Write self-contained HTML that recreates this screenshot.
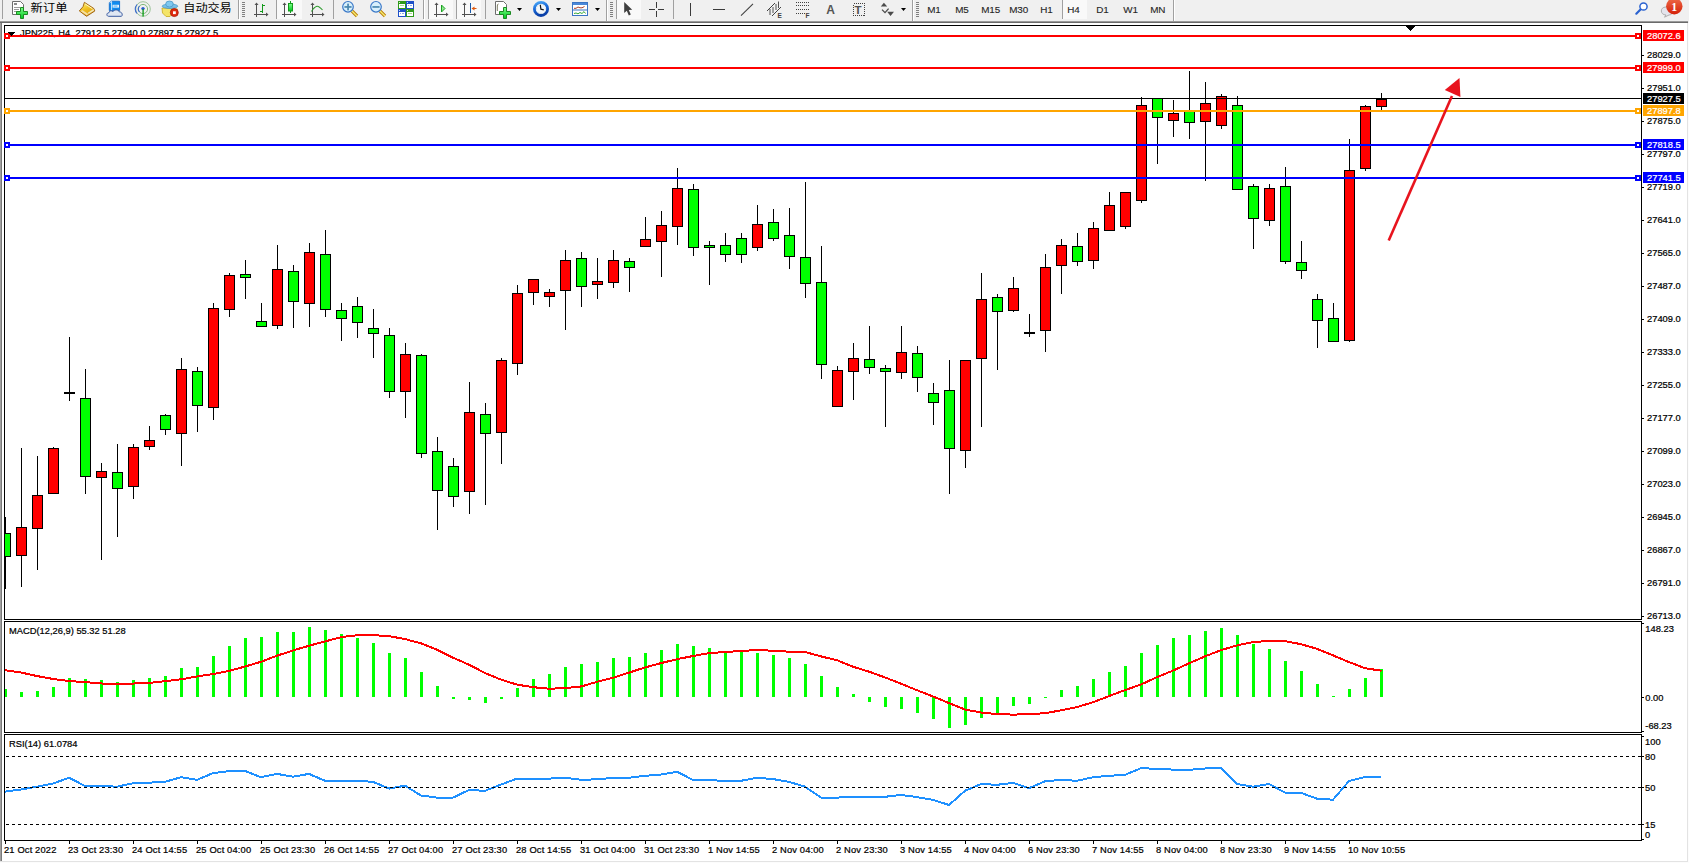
<!DOCTYPE html>
<html><head><meta charset="utf-8"><title>MT4 JPN225 H4</title>
<style>
html,body{margin:0;padding:0;background:#fff;}
body{width:1689px;height:863px;position:relative;overflow:hidden;font-family:"Liberation Sans", Tahoma, sans-serif;}
svg text{white-space:pre;}
</style></head><body>
<div style="position:absolute;left:0;top:0;width:1689px;height:23px;background:#f0f0f0;"></div>
<svg width="1689" height="23" style="position:absolute;left:0;top:0" font-family='"Liberation Sans", Tahoma, sans-serif'>
<defs>
<linearGradient id="gplus" x1="0" y1="0" x2="0" y2="1"><stop offset="0" stop-color="#7dff8a"/><stop offset="1" stop-color="#00c81e"/></linearGradient>
<linearGradient id="ggold" x1="0.2" y1="0" x2="0.6" y2="1"><stop offset="0" stop-color="#fff27a"/><stop offset="0.5" stop-color="#f0c020"/><stop offset="1" stop-color="#d89a10"/></linearGradient>
<linearGradient id="gclock" x1="0" y1="0" x2="0.3" y2="1"><stop offset="0" stop-color="#4aa8f8"/><stop offset="0.5" stop-color="#1a6ad8"/><stop offset="1" stop-color="#0a40a8"/></linearGradient>
<linearGradient id="gbadge" x1="0" y1="0" x2="0" y2="1"><stop offset="0" stop-color="#ee6a48"/><stop offset="1" stop-color="#d42008"/></linearGradient>
<linearGradient id="gbar" x1="0" y1="0" x2="0" y2="1"><stop offset="0" stop-color="#a8a8a8"/><stop offset="1" stop-color="#646464"/></linearGradient>
</defs>
<g shape-rendering="crispEdges">
<rect x="0" y="21" width="1688" height="1" fill="#9a9a9a"/>
<rect x="0" y="22" width="1688" height="1" fill="#6a6a6a"/>
<!-- separators -->
<rect x="2" y="0" width="1" height="19" fill="#a0a0a0"/>
<rect x="238" y="0" width="1" height="19" fill="#a0a0a0"/><rect x="239" y="0" width="1" height="21" fill="#fff"/>
<rect x="276" y="0" width="1" height="19" fill="#a0a0a0"/>
<rect x="333" y="0" width="1" height="19" fill="#a0a0a0"/>
<rect x="423" y="0" width="1" height="19" fill="#a0a0a0"/><rect x="424" y="0" width="1" height="21" fill="#fff"/>
<rect x="428" y="0" width="1" height="19" fill="#a0a0a0"/>
<rect x="456" y="0" width="1" height="19" fill="#a0a0a0"/>
<rect x="485" y="0" width="1" height="19" fill="#a0a0a0"/>
<rect x="606" y="0" width="1" height="21" fill="#a0a0a0"/><rect x="607" y="0" width="1" height="21" fill="#fff"/>
<rect x="616" y="0" width="1" height="19" fill="#a0a0a0"/>
<rect x="673" y="0" width="1" height="19" fill="#a0a0a0"/>
<rect x="912" y="0" width="1" height="21" fill="#a0a0a0"/><rect x="913" y="0" width="1" height="21" fill="#fff"/>
<rect x="1062" y="0" width="1" height="19" fill="#a0a0a0"/>
<rect x="1173" y="0" width="1" height="21" fill="#a0a0a0"/><rect x="1174" y="0" width="1" height="21" fill="#fff"/>
<!-- pressed boxes -->
<rect x="277" y="0" width="25" height="19" fill="#f9f9f9"/>
<rect x="429" y="0" width="24" height="19" fill="#f9f9f9"/>
<rect x="457" y="0" width="24" height="19" fill="#f9f9f9"/>
<rect x="617" y="0" width="24" height="19" fill="#f9f9f9"/>
<rect x="1063" y="0" width="24" height="19" fill="#f9f9f9"/>
<!-- grippers -->
<g fill="#808080">
<rect x="242" y="2" width="3" height="1"/><rect x="242" y="4" width="3" height="1"/><rect x="242" y="6" width="3" height="1"/><rect x="242" y="8" width="3" height="1"/><rect x="242" y="10" width="3" height="1"/><rect x="242" y="12" width="3" height="1"/><rect x="242" y="14" width="3" height="1"/><rect x="242" y="16" width="3" height="1"/>
<rect x="610" y="2" width="3" height="1"/><rect x="610" y="4" width="3" height="1"/><rect x="610" y="6" width="3" height="1"/><rect x="610" y="8" width="3" height="1"/><rect x="610" y="10" width="3" height="1"/><rect x="610" y="12" width="3" height="1"/><rect x="610" y="14" width="3" height="1"/><rect x="610" y="16" width="3" height="1"/>
<rect x="916" y="2" width="3" height="1"/><rect x="916" y="4" width="3" height="1"/><rect x="916" y="6" width="3" height="1"/><rect x="916" y="8" width="3" height="1"/><rect x="916" y="10" width="3" height="1"/><rect x="916" y="12" width="3" height="1"/><rect x="916" y="14" width="3" height="1"/><rect x="916" y="16" width="3" height="1"/>
</g>
</g>
<!-- new order icon -->
<path d="M12.5,1.5 H20.5 L23.5,4.5 V14.5 H12.5 Z" fill="#fff" stroke="#6e6e6e"/>
<rect x="14" y="3" width="3" height="2" fill="#8a8a8a"/>
<rect x="14" y="7" width="6" height="1" fill="#9a9a9a"/><rect x="14" y="9" width="5" height="1" fill="#9a9a9a"/><rect x="14" y="11" width="3" height="1" fill="#9a9a9a"/>
<path d="M20.5,7.5 H23.5 V11.5 H27.5 V14.5 H23.5 V18.5 H20.5 V14.5 H16.5 V11.5 H20.5 Z" fill="url(#gplus)" stroke="#1c8a22"/>
<text transform="translate(30.5,12.4) scale(1.03,0.91)" font-size="12" font-family='"Liberation Sans", "Noto Sans CJK SC", "WenQuanYi Zen Hei", sans-serif' fill="#000">新订单</text>
<!-- gold book -->
<path d="M84.4,2.3 L93.8,8.5 L94.8,11 L86.6,16.3 L79.3,10.9 L83,6.7 Z" fill="url(#ggold)" stroke="#9a5a0c" stroke-width="0.9"/>
<path d="M80.6,11.2 L86.8,15.2 L88.4,14.1 L82.3,10 Z" fill="#f6e0a0"/>
<path d="M88.6,14 L94.2,10.4 L93.6,9.1 L87.8,12.8 Z" fill="#f2e6b8"/>
<path d="M85.2,4 L92.5,8.8" stroke="#fff8c0" stroke-width="1"/>
<!-- blue box + cloud -->
<path d="M109.3,2.6 L111.3,1.2 H119.6 V10.5 H109.3 Z" fill="#0f8cf0" stroke="#0a64c8" stroke-width="0.8"/>
<path d="M109.6,2.8 L111.6,1.5 V10.3" fill="none" stroke="#fff" stroke-width="0.8"/>
<rect x="112.6" y="4.8" width="6.4" height="2.8" fill="#f0f8ff"/><rect x="113.5" y="5.6" width="4" height="0.9" fill="#3a9ae8"/>
<path d="M108.6,16.3 C106.3,16.3 106.3,12.8 108.8,12.8 C109.3,10.6 112,10.2 113,11.6 C113.8,9.4 118.6,9.2 119.4,12 C122.2,11.6 123,15.6 121.4,16.3 Z" fill="#dfe7f3" stroke="#3a5aa0" stroke-width="1"/>
<!-- signal -->
<circle cx="143" cy="9" r="7.3" fill="none" stroke="#9ec49a" stroke-width="1"/>
<path d="M137,4.5 A7.3,7.3 0 0 0 137,13.5" fill="none" stroke="#3a6ad0" stroke-width="1.1"/>
<circle cx="143" cy="9" r="4.6" fill="none" stroke="#7fb87a" stroke-width="1"/>
<path d="M139.5,6 A4.6,4.6 0 0 0 139.5,12" fill="none" stroke="#3a6ad0" stroke-width="1.1"/>
<circle cx="143" cy="8.6" r="1.7" fill="#2a5ad0"/>
<rect x="142.4" y="9" width="1.4" height="7.5" fill="#18a020"/>
<!-- auto trading -->
<path d="M162.5,13 L166,16.5 L170,16.5 L177.5,9 L162,8 Z" fill="#f4e468" stroke="#c8a820" stroke-width="0.8"/>
<ellipse cx="170" cy="6.2" rx="7.8" ry="2.2" fill="#78c0e8" stroke="#4a98c8" stroke-width="0.8"/>
<ellipse cx="169.5" cy="4" rx="3.8" ry="3" fill="#80c8f0" stroke="#4a98c8" stroke-width="0.8"/>
<circle cx="174.3" cy="12.6" r="4" fill="#e02a10" stroke="#a81a08" stroke-width="0.8"/>
<rect x="173" y="11.3" width="2.8" height="2.8" fill="#fff"/>
<text transform="translate(183.3,12.4) scale(1.01,0.91)" font-size="12" font-family='"Liberation Sans", "Noto Sans CJK SC", "WenQuanYi Zen Hei", sans-serif' fill="#000">自动交易</text>
<!-- bar chart icon -->
<g fill="#505050" shape-rendering="crispEdges">
<rect x="256" y="4" width="1" height="13"/><rect x="254" y="14" width="13" height="1"/>
<rect x="284" y="4" width="1" height="13"/><rect x="282" y="14" width="13" height="1"/>
<rect x="312" y="4" width="1" height="13"/><rect x="310" y="14" width="13" height="1"/>
<rect x="436" y="4" width="1" height="13"/><rect x="434" y="14" width="13" height="1"/>
<rect x="464" y="4" width="1" height="13"/><rect x="462" y="14" width="13" height="1"/>
</g>
<g fill="#505050">
<path d="M254.5,5 L256.5,2.5 L258.5,5 Z"/><path d="M266,12.5 L268.5,14.5 L266,16.5 Z"/>
<path d="M282.5,5 L284.5,2.5 L286.5,5 Z"/><path d="M294,12.5 L296.5,14.5 L294,16.5 Z"/>
<path d="M310.5,5 L312.5,2.5 L314.5,5 Z"/><path d="M322,12.5 L324.5,14.5 L322,16.5 Z"/>
<path d="M434.5,5 L436.5,2.5 L438.5,5 Z"/><path d="M446,12.5 L448.5,14.5 L446,16.5 Z"/>
<path d="M462.5,5 L464.5,2.5 L466.5,5 Z"/><path d="M474,12.5 L476.5,14.5 L474,16.5 Z"/>
</g>
<g fill="#139a1c" shape-rendering="crispEdges">
<rect x="262" y="4" width="1" height="9"/><rect x="260" y="11" width="2" height="1"/><rect x="263" y="5" width="2" height="1"/>
<rect x="290" y="1" width="1" height="12"/>
</g>
<rect x="288.5" y="3.5" width="4" height="7.5" fill="url(#gplus)" stroke="#139a1c"/>
<path d="M311.5,11.5 Q314,7 317,6.2 Q319,6 322.5,10" fill="none" stroke="#2a9a2a" stroke-width="1.1"/>
<!-- zoom in/out -->
<line x1="352" y1="11" x2="357" y2="16" stroke="#b87c08" stroke-width="3.2"/>
<line x1="352" y1="11" x2="357" y2="16" stroke="#f8ec70" stroke-width="1.4"/>
<circle cx="348" cy="6.8" r="5.3" fill="#d8f0fc" stroke="#3a78c8" stroke-width="1.2"/>
<rect x="344.4" y="6.1" width="7.2" height="1.7" fill="#4a88b0"/><rect x="347.2" y="3.6" width="1.7" height="6.8" fill="#4a88b0"/>
<line x1="380" y1="11" x2="385" y2="16" stroke="#b87c08" stroke-width="3.2"/>
<line x1="380" y1="11" x2="385" y2="16" stroke="#f8ec70" stroke-width="1.4"/>
<circle cx="376" cy="6.8" r="5.3" fill="#d8f0fc" stroke="#3a78c8" stroke-width="1.2"/>
<rect x="372.4" y="6.1" width="7.2" height="1.7" fill="#4a88b0"/>
<!-- tile -->
<g shape-rendering="crispEdges">
<rect x="398" y="1" width="8" height="8" fill="#2f9a1a"/><rect x="406" y="1" width="8" height="8" fill="#1e50c8"/>
<rect x="398" y="9" width="8" height="8" fill="#1e50c8"/><rect x="406" y="9" width="8" height="8" fill="#2f9a1a"/>
<rect x="399" y="4" width="6" height="4" fill="#fff"/><rect x="407" y="4" width="6" height="4" fill="#fff"/>
<rect x="399" y="12" width="6" height="4" fill="#fff"/><rect x="407" y="12" width="6" height="4" fill="#fff"/>
<rect x="400" y="5" width="4" height="1" fill="#a8d890"/><rect x="408" y="5" width="1" height="1" fill="#8aa8e8"/><rect x="410" y="5" width="2" height="1" fill="#8aa8e8"/>
<rect x="400" y="13" width="1" height="1" fill="#8aa8e8"/><rect x="402" y="13" width="2" height="1" fill="#8aa8e8"/><rect x="408" y="13" width="4" height="1" fill="#a8d890"/>
<rect x="399" y="2" width="1" height="1" fill="#d0f0c0"/><rect x="407" y="2" width="1" height="1" fill="#c0d8ff"/><rect x="399" y="10" width="1" height="1" fill="#c0d8ff"/><rect x="407" y="10" width="1" height="1" fill="#d0f0c0"/>
</g>
<!-- autoscroll triangle -->
<path d="M441.5,5 L445,8.5 L441.5,12 Z" fill="#8ee88e" stroke="#18a020" stroke-width="1"/>
<!-- chart shift -->
<rect x="470" y="3" width="1" height="10" fill="#1a5aa8"/>
<path d="M471.5,8.5 L474.5,6.5 L474.5,8 L476.5,8 L476.5,9 L474.5,9 L474.5,10.5 Z" fill="#e05a10"/>
<!-- indicators -->
<path d="M495.5,1.5 H503.5 L506.5,4.5 V14.5 H495.5 Z" fill="#fff" stroke="#6e6e6e"/>
<path d="M498.5,4 Q497.3,4 497.3,6 V11" fill="none" stroke="#5a5a3a" stroke-width="0.8"/>
<path d="M503.5,7.5 H506.5 V11.5 H510.5 V14.5 H506.5 V18.5 H503.5 V14.5 H499.5 V11.5 H503.5 Z" fill="url(#gplus)" stroke="#1c8a22"/>
<g fill="#000">
<path d="M517,8 H522 L519.5,11 Z"/><path d="M556,8 H561 L558.5,11 Z"/><path d="M595,8 H600 L597.5,11 Z"/><path d="M901,8 H906 L903.5,11 Z"/>
</g>
<!-- clock -->
<circle cx="541" cy="8.9" r="6.6" fill="#f2f6fa" stroke="url(#gclock)" stroke-width="2.8"/>
<g fill="#9aa"><circle cx="541" cy="4.3" r="0.45"/><circle cx="545.6" cy="8.9" r="0.45"/><circle cx="541" cy="13.5" r="0.45"/><circle cx="536.4" cy="8.9" r="0.45"/><circle cx="543.3" cy="4.9" r="0.4"/><circle cx="538.7" cy="12.9" r="0.4"/><circle cx="537" cy="6.6" r="0.4"/><circle cx="545" cy="11.2" r="0.4"/></g>
<path d="M540.3,4.8 L540.9,9.2 L543.8,9.8" fill="none" stroke="#181818" stroke-width="1.2"/>
<!-- template -->
<rect x="572.5" y="2.5" width="15" height="13" fill="#fff" stroke="#3a74c4"/>
<rect x="573" y="3" width="14" height="2" fill="#4a88d8"/>
<rect x="573" y="9.5" width="14" height="1" fill="#3a74c4"/>
<path d="M574,8.3 L576,8.3 L578,7 L580,7.8 L582,7.8 L584.5,6.5" fill="none" stroke="#a02a10" stroke-width="0.9"/>
<path d="M574,13.5 L576,13 L578,13.8 L580,12.5 L582,13.5 L584,11.6 L585.5,13.5" fill="none" stroke="#20a020" stroke-width="0.9"/>
<!-- cursor -->
<path d="M624.2,2 L624.2,13 L626.8,10.8 L628.8,15.5 L630.8,14.6 L628.8,10 L632.2,9.7 Z" fill="#404040"/>
<!-- crosshair -->
<g fill="#3a3a3a" shape-rendering="crispEdges">
<rect x="656" y="2" width="1" height="6"/><rect x="656" y="11" width="1" height="6"/>
<rect x="649" y="9" width="6" height="1"/><rect x="658" y="9" width="6" height="1"/>
<rect x="690" y="3" width="1" height="13"/>
<rect x="713" y="9" width="12" height="1"/>
</g>
<line x1="741" y1="15.6" x2="753" y2="3.9" stroke="#404040" stroke-width="1.1"/>
<!-- channel -->
<line x1="767" y1="11" x2="775" y2="3" stroke="#404040" stroke-width="1"/>
<line x1="772" y1="16" x2="781" y2="7" stroke="#404040" stroke-width="1"/>
<path d="M770,9 V15 M773,7 V13 M776,4 V10 M778.5,1.5 V8" stroke="#404040" stroke-width="0.9"/>
<text x="777.6" y="17.6" font-size="6.5" font-weight="bold" fill="#404040">E</text>
<!-- fib -->
<g fill="#404040" shape-rendering="crispEdges">
<rect x="796" y="2" width="1" height="1"/><rect x="798" y="2" width="1" height="1"/><rect x="800" y="2" width="1" height="1"/><rect x="802" y="2" width="1" height="1"/><rect x="804" y="2" width="1" height="1"/><rect x="806" y="2" width="1" height="1"/><rect x="808" y="2" width="1" height="1"/>
<rect x="796" y="5" width="1" height="1"/><rect x="798" y="5" width="1" height="1"/><rect x="800" y="5" width="1" height="1"/><rect x="802" y="5" width="1" height="1"/><rect x="804" y="5" width="1" height="1"/><rect x="806" y="5" width="1" height="1"/><rect x="808" y="5" width="1" height="1"/>
<rect x="796" y="9" width="1" height="1"/><rect x="798" y="9" width="1" height="1"/><rect x="800" y="9" width="1" height="1"/><rect x="802" y="9" width="1" height="1"/><rect x="804" y="9" width="1" height="1"/><rect x="806" y="9" width="1" height="1"/><rect x="808" y="9" width="1" height="1"/>
<rect x="796" y="13" width="1" height="1"/><rect x="798" y="13" width="1" height="1"/><rect x="800" y="13" width="1" height="1"/><rect x="802" y="13" width="1" height="1"/><rect x="804" y="13" width="1" height="1"/>
</g>
<text x="805.6" y="17.8" font-size="6.5" font-weight="bold" fill="#404040">F</text>
<!-- A, T -->
<text x="826.3" y="14" font-size="12" font-weight="bold" fill="#555">A</text>
<rect x="853.5" y="3.5" width="11" height="12" fill="none" stroke="#404040" stroke-dasharray="1 1" shape-rendering="crispEdges"/>
<text x="854.6" y="14" font-size="11.5" font-weight="bold" fill="#505050">T</text>
<!-- arrows -->
<path d="M880.8,6.6 L883.9,2.8 L887.2,6.6 Z M887.2,11.8 L890.5,16 L894,11.8 Z" fill="#4a4a4a"/>
<path d="M882,9.6 L885,12.6 L888.6,8.6" fill="none" stroke="#4a4a4a" stroke-width="1.3"/>
<!-- timeframes -->
<g font-size="9.9" fill="#262626" stroke="#262626" stroke-width="0.12" letter-spacing="-0.15">
<text x="927.3" y="12.9">M1</text><text x="955.3" y="12.9">M5</text><text x="981.3" y="12.9">M15</text><text x="1009.3" y="12.9">M30</text>
<text x="1040.3" y="12.9">H1</text><text x="1067.3" y="12.9">H4</text><text x="1096.3" y="12.9">D1</text><text x="1123.3" y="12.9">W1</text><text x="1150.3" y="12.9">MN</text>
</g>
<!-- search -->
<circle cx="1643.5" cy="6.5" r="3.6" fill="#fff" stroke="#2a62d0" stroke-width="1.5"/>
<line x1="1640.5" y1="9.5" x2="1636.3" y2="13.7" stroke="#2a62d0" stroke-width="2.2" stroke-linecap="round"/>
<!-- chat + badge -->
<path d="M1666,15 C1660,15 1659.5,7 1666,7 H1669 C1674,7 1674,15 1669,15 L1664.5,17.2 Z" fill="#e4e4ec" stroke="#a8a8a8" stroke-width="0.9"/>
<circle cx="1674.3" cy="6.3" r="8.2" fill="url(#gbadge)"/>
<text x="1671.2" y="10.8" font-size="12" font-family='"Liberation Serif", serif' font-weight="bold" fill="#fff">1</text>
</svg>

<svg class="ch" width="1689" height="840" viewBox="0 23 1689 840" style="position:absolute;left:0;top:23px" shape-rendering="crispEdges">
<rect x="0" y="23" width="1689" height="840" fill="#fff"/>
<rect x="0" y="23" width="1" height="840" fill="#a0a0a0"/>
<rect x="1" y="23" width="1" height="840" fill="#7a7a7a"/>
<rect x="1687" y="23" width="1" height="840" fill="#e3e3e3"/>
<rect x="1688" y="23" width="1" height="840" fill="#fcfcfc"/>
<rect x="0" y="861" width="1688" height="1" fill="#e3e3e3"/>
<rect x="0" y="862" width="1689" height="1" fill="#fcfcfc"/>
<defs><clipPath id="cm"><rect x="5" y="26" width="1636" height="593"/></clipPath><clipPath id="cmacd"><rect x="5" y="622" width="1636" height="110"/></clipPath><clipPath id="crsi"><rect x="5" y="735" width="1636" height="105"/></clipPath></defs>
<text x="20" y="36" fill="#000" stroke="#000" stroke-width="0.22" font-family='"Liberation Sans", Tahoma, sans-serif' font-size="9.33" style="white-space:pre">JPN225, H4  27912.5 27940.0 27897.5 27927.5</text>
<g clip-path="url(#cm)">
<rect x="5" y="517" width="1" height="72" fill="#000"/>
<rect x="0" y="533" width="11" height="24" fill="#000"/>
<rect x="1" y="534" width="9" height="22" fill="#0f0"/>
<rect x="21" y="448" width="1" height="139" fill="#000"/>
<rect x="16" y="527" width="11" height="29" fill="#000"/>
<rect x="17" y="528" width="9" height="27" fill="#f00"/>
<rect x="37" y="456" width="1" height="114" fill="#000"/>
<rect x="32" y="495" width="11" height="34" fill="#000"/>
<rect x="33" y="496" width="9" height="32" fill="#f00"/>
<rect x="53" y="447" width="1" height="47" fill="#000"/>
<rect x="48" y="448" width="11" height="46" fill="#000"/>
<rect x="49" y="449" width="9" height="44" fill="#f00"/>
<rect x="69" y="337" width="1" height="64" fill="#000"/>
<rect x="64" y="392" width="11" height="2" fill="#000"/>
<rect x="85" y="369" width="1" height="125" fill="#000"/>
<rect x="80" y="398" width="11" height="79" fill="#000"/>
<rect x="81" y="399" width="9" height="77" fill="#0f0"/>
<rect x="101" y="463" width="1" height="97" fill="#000"/>
<rect x="96" y="471" width="11" height="7" fill="#000"/>
<rect x="97" y="472" width="9" height="5" fill="#f00"/>
<rect x="117" y="444" width="1" height="93" fill="#000"/>
<rect x="112" y="472" width="11" height="17" fill="#000"/>
<rect x="113" y="473" width="9" height="15" fill="#0f0"/>
<rect x="133" y="444" width="1" height="55" fill="#000"/>
<rect x="128" y="447" width="11" height="40" fill="#000"/>
<rect x="129" y="448" width="9" height="38" fill="#f00"/>
<rect x="149" y="426" width="1" height="24" fill="#000"/>
<rect x="144" y="440" width="11" height="7" fill="#000"/>
<rect x="145" y="441" width="9" height="5" fill="#f00"/>
<rect x="165" y="414" width="1" height="21" fill="#000"/>
<rect x="160" y="415" width="11" height="15" fill="#000"/>
<rect x="161" y="416" width="9" height="13" fill="#0f0"/>
<rect x="181" y="358" width="1" height="108" fill="#000"/>
<rect x="176" y="369" width="11" height="65" fill="#000"/>
<rect x="177" y="370" width="9" height="63" fill="#f00"/>
<rect x="197" y="367" width="1" height="65" fill="#000"/>
<rect x="192" y="371" width="11" height="35" fill="#000"/>
<rect x="193" y="372" width="9" height="33" fill="#0f0"/>
<rect x="213" y="303" width="1" height="117" fill="#000"/>
<rect x="208" y="308" width="11" height="100" fill="#000"/>
<rect x="209" y="309" width="9" height="98" fill="#f00"/>
<rect x="229" y="273" width="1" height="44" fill="#000"/>
<rect x="224" y="275" width="11" height="35" fill="#000"/>
<rect x="225" y="276" width="9" height="33" fill="#f00"/>
<rect x="245" y="260" width="1" height="39" fill="#000"/>
<rect x="240" y="274" width="11" height="4" fill="#000"/>
<rect x="241" y="275" width="9" height="2" fill="#0f0"/>
<rect x="261" y="303" width="1" height="24" fill="#000"/>
<rect x="256" y="321" width="11" height="6" fill="#000"/>
<rect x="257" y="322" width="9" height="4" fill="#0f0"/>
<rect x="277" y="245" width="1" height="84" fill="#000"/>
<rect x="272" y="269" width="11" height="57" fill="#000"/>
<rect x="273" y="270" width="9" height="55" fill="#f00"/>
<rect x="293" y="265" width="1" height="63" fill="#000"/>
<rect x="288" y="271" width="11" height="31" fill="#000"/>
<rect x="289" y="272" width="9" height="29" fill="#0f0"/>
<rect x="309" y="243" width="1" height="84" fill="#000"/>
<rect x="304" y="252" width="11" height="52" fill="#000"/>
<rect x="305" y="253" width="9" height="50" fill="#f00"/>
<rect x="325" y="230" width="1" height="87" fill="#000"/>
<rect x="320" y="254" width="11" height="56" fill="#000"/>
<rect x="321" y="255" width="9" height="54" fill="#0f0"/>
<rect x="341" y="303" width="1" height="38" fill="#000"/>
<rect x="336" y="310" width="11" height="9" fill="#000"/>
<rect x="337" y="311" width="9" height="7" fill="#0f0"/>
<rect x="357" y="297" width="1" height="41" fill="#000"/>
<rect x="352" y="306" width="11" height="17" fill="#000"/>
<rect x="353" y="307" width="9" height="15" fill="#0f0"/>
<rect x="373" y="309" width="1" height="49" fill="#000"/>
<rect x="368" y="328" width="11" height="6" fill="#000"/>
<rect x="369" y="329" width="9" height="4" fill="#0f0"/>
<rect x="389" y="328" width="1" height="70" fill="#000"/>
<rect x="384" y="335" width="11" height="57" fill="#000"/>
<rect x="385" y="336" width="9" height="55" fill="#0f0"/>
<rect x="405" y="343" width="1" height="75" fill="#000"/>
<rect x="400" y="354" width="11" height="38" fill="#000"/>
<rect x="401" y="355" width="9" height="36" fill="#f00"/>
<rect x="421" y="354" width="1" height="104" fill="#000"/>
<rect x="416" y="355" width="11" height="99" fill="#000"/>
<rect x="417" y="356" width="9" height="97" fill="#0f0"/>
<rect x="437" y="437" width="1" height="93" fill="#000"/>
<rect x="432" y="451" width="11" height="40" fill="#000"/>
<rect x="433" y="452" width="9" height="38" fill="#0f0"/>
<rect x="453" y="458" width="1" height="49" fill="#000"/>
<rect x="448" y="466" width="11" height="31" fill="#000"/>
<rect x="449" y="467" width="9" height="29" fill="#0f0"/>
<rect x="469" y="382" width="1" height="132" fill="#000"/>
<rect x="464" y="412" width="11" height="80" fill="#000"/>
<rect x="465" y="413" width="9" height="78" fill="#f00"/>
<rect x="485" y="403" width="1" height="102" fill="#000"/>
<rect x="480" y="414" width="11" height="20" fill="#000"/>
<rect x="481" y="415" width="9" height="18" fill="#0f0"/>
<rect x="501" y="358" width="1" height="106" fill="#000"/>
<rect x="496" y="360" width="11" height="73" fill="#000"/>
<rect x="497" y="361" width="9" height="71" fill="#f00"/>
<rect x="517" y="285" width="1" height="90" fill="#000"/>
<rect x="512" y="293" width="11" height="71" fill="#000"/>
<rect x="513" y="294" width="9" height="69" fill="#f00"/>
<rect x="533" y="279" width="1" height="26" fill="#000"/>
<rect x="528" y="279" width="11" height="14" fill="#000"/>
<rect x="529" y="280" width="9" height="12" fill="#f00"/>
<rect x="549" y="289" width="1" height="18" fill="#000"/>
<rect x="544" y="292" width="11" height="5" fill="#000"/>
<rect x="545" y="293" width="9" height="3" fill="#f00"/>
<rect x="565" y="250" width="1" height="80" fill="#000"/>
<rect x="560" y="260" width="11" height="31" fill="#000"/>
<rect x="561" y="261" width="9" height="29" fill="#f00"/>
<rect x="581" y="252" width="1" height="55" fill="#000"/>
<rect x="576" y="258" width="11" height="29" fill="#000"/>
<rect x="577" y="259" width="9" height="27" fill="#0f0"/>
<rect x="597" y="258" width="1" height="41" fill="#000"/>
<rect x="592" y="281" width="11" height="4" fill="#000"/>
<rect x="593" y="282" width="9" height="2" fill="#f00"/>
<rect x="613" y="250" width="1" height="38" fill="#000"/>
<rect x="608" y="260" width="11" height="23" fill="#000"/>
<rect x="609" y="261" width="9" height="21" fill="#f00"/>
<rect x="629" y="258" width="1" height="34" fill="#000"/>
<rect x="624" y="261" width="11" height="7" fill="#000"/>
<rect x="625" y="262" width="9" height="5" fill="#0f0"/>
<rect x="645" y="217" width="1" height="30" fill="#000"/>
<rect x="640" y="239" width="11" height="8" fill="#000"/>
<rect x="641" y="240" width="9" height="6" fill="#f00"/>
<rect x="661" y="211" width="1" height="66" fill="#000"/>
<rect x="656" y="225" width="11" height="17" fill="#000"/>
<rect x="657" y="226" width="9" height="15" fill="#f00"/>
<rect x="677" y="168" width="1" height="77" fill="#000"/>
<rect x="672" y="188" width="11" height="39" fill="#000"/>
<rect x="673" y="189" width="9" height="37" fill="#f00"/>
<rect x="693" y="184" width="1" height="72" fill="#000"/>
<rect x="688" y="189" width="11" height="59" fill="#000"/>
<rect x="689" y="190" width="9" height="57" fill="#0f0"/>
<rect x="709" y="241" width="1" height="44" fill="#000"/>
<rect x="704" y="245" width="11" height="3" fill="#000"/>
<rect x="705" y="246" width="9" height="1" fill="#0f0"/>
<rect x="725" y="233" width="1" height="29" fill="#000"/>
<rect x="720" y="245" width="11" height="10" fill="#000"/>
<rect x="721" y="246" width="9" height="8" fill="#0f0"/>
<rect x="741" y="233" width="1" height="30" fill="#000"/>
<rect x="736" y="238" width="11" height="17" fill="#000"/>
<rect x="737" y="239" width="9" height="15" fill="#0f0"/>
<rect x="757" y="205" width="1" height="46" fill="#000"/>
<rect x="752" y="224" width="11" height="24" fill="#000"/>
<rect x="753" y="225" width="9" height="22" fill="#f00"/>
<rect x="773" y="209" width="1" height="32" fill="#000"/>
<rect x="768" y="222" width="11" height="17" fill="#000"/>
<rect x="769" y="223" width="9" height="15" fill="#0f0"/>
<rect x="789" y="208" width="1" height="61" fill="#000"/>
<rect x="784" y="235" width="11" height="22" fill="#000"/>
<rect x="785" y="236" width="9" height="20" fill="#0f0"/>
<rect x="805" y="182" width="1" height="116" fill="#000"/>
<rect x="800" y="257" width="11" height="27" fill="#000"/>
<rect x="801" y="258" width="9" height="25" fill="#0f0"/>
<rect x="821" y="246" width="1" height="133" fill="#000"/>
<rect x="816" y="282" width="11" height="83" fill="#000"/>
<rect x="817" y="283" width="9" height="81" fill="#0f0"/>
<rect x="837" y="366" width="1" height="41" fill="#000"/>
<rect x="832" y="370" width="11" height="37" fill="#000"/>
<rect x="833" y="371" width="9" height="35" fill="#f00"/>
<rect x="853" y="343" width="1" height="57" fill="#000"/>
<rect x="848" y="358" width="11" height="14" fill="#000"/>
<rect x="849" y="359" width="9" height="12" fill="#f00"/>
<rect x="869" y="326" width="1" height="48" fill="#000"/>
<rect x="864" y="359" width="11" height="9" fill="#000"/>
<rect x="865" y="360" width="9" height="7" fill="#0f0"/>
<rect x="885" y="365" width="1" height="62" fill="#000"/>
<rect x="880" y="368" width="11" height="4" fill="#000"/>
<rect x="881" y="369" width="9" height="2" fill="#0f0"/>
<rect x="901" y="326" width="1" height="53" fill="#000"/>
<rect x="896" y="352" width="11" height="21" fill="#000"/>
<rect x="897" y="353" width="9" height="19" fill="#f00"/>
<rect x="917" y="346" width="1" height="46" fill="#000"/>
<rect x="912" y="353" width="11" height="25" fill="#000"/>
<rect x="913" y="354" width="9" height="23" fill="#0f0"/>
<rect x="933" y="383" width="1" height="42" fill="#000"/>
<rect x="928" y="393" width="11" height="10" fill="#000"/>
<rect x="929" y="394" width="9" height="8" fill="#0f0"/>
<rect x="949" y="360" width="1" height="134" fill="#000"/>
<rect x="944" y="390" width="11" height="59" fill="#000"/>
<rect x="945" y="391" width="9" height="57" fill="#0f0"/>
<rect x="965" y="360" width="1" height="108" fill="#000"/>
<rect x="960" y="360" width="11" height="91" fill="#000"/>
<rect x="961" y="361" width="9" height="89" fill="#f00"/>
<rect x="981" y="273" width="1" height="154" fill="#000"/>
<rect x="976" y="299" width="11" height="60" fill="#000"/>
<rect x="977" y="300" width="9" height="58" fill="#f00"/>
<rect x="997" y="294" width="1" height="76" fill="#000"/>
<rect x="992" y="297" width="11" height="15" fill="#000"/>
<rect x="993" y="298" width="9" height="13" fill="#0f0"/>
<rect x="1013" y="277" width="1" height="35" fill="#000"/>
<rect x="1008" y="288" width="11" height="23" fill="#000"/>
<rect x="1009" y="289" width="9" height="21" fill="#f00"/>
<rect x="1029" y="314" width="1" height="23" fill="#000"/>
<rect x="1024" y="332" width="11" height="2" fill="#000"/>
<rect x="1045" y="254" width="1" height="98" fill="#000"/>
<rect x="1040" y="267" width="11" height="64" fill="#000"/>
<rect x="1041" y="268" width="9" height="62" fill="#f00"/>
<rect x="1061" y="239" width="1" height="55" fill="#000"/>
<rect x="1056" y="245" width="11" height="21" fill="#000"/>
<rect x="1057" y="246" width="9" height="19" fill="#f00"/>
<rect x="1077" y="233" width="1" height="33" fill="#000"/>
<rect x="1072" y="246" width="11" height="16" fill="#000"/>
<rect x="1073" y="247" width="9" height="14" fill="#0f0"/>
<rect x="1093" y="222" width="1" height="47" fill="#000"/>
<rect x="1088" y="228" width="11" height="33" fill="#000"/>
<rect x="1089" y="229" width="9" height="31" fill="#f00"/>
<rect x="1109" y="192" width="1" height="39" fill="#000"/>
<rect x="1104" y="205" width="11" height="26" fill="#000"/>
<rect x="1105" y="206" width="9" height="24" fill="#f00"/>
<rect x="1125" y="192" width="1" height="37" fill="#000"/>
<rect x="1120" y="192" width="11" height="35" fill="#000"/>
<rect x="1121" y="193" width="9" height="33" fill="#f00"/>
<rect x="1141" y="97" width="1" height="106" fill="#000"/>
<rect x="1136" y="105" width="11" height="96" fill="#000"/>
<rect x="1137" y="106" width="9" height="94" fill="#f00"/>
<rect x="1157" y="98" width="1" height="66" fill="#000"/>
<rect x="1152" y="98" width="11" height="20" fill="#000"/>
<rect x="1153" y="99" width="9" height="18" fill="#0f0"/>
<rect x="1173" y="100" width="1" height="37" fill="#000"/>
<rect x="1168" y="113" width="11" height="8" fill="#000"/>
<rect x="1169" y="114" width="9" height="6" fill="#f00"/>
<rect x="1189" y="71" width="1" height="68" fill="#000"/>
<rect x="1184" y="111" width="11" height="12" fill="#000"/>
<rect x="1185" y="112" width="9" height="10" fill="#0f0"/>
<rect x="1205" y="82" width="1" height="99" fill="#000"/>
<rect x="1200" y="103" width="11" height="19" fill="#000"/>
<rect x="1201" y="104" width="9" height="17" fill="#f00"/>
<rect x="1221" y="94" width="1" height="35" fill="#000"/>
<rect x="1216" y="96" width="11" height="30" fill="#000"/>
<rect x="1217" y="97" width="9" height="28" fill="#f00"/>
<rect x="1237" y="96" width="1" height="94" fill="#000"/>
<rect x="1232" y="105" width="11" height="85" fill="#000"/>
<rect x="1233" y="106" width="9" height="83" fill="#0f0"/>
<rect x="1253" y="184" width="1" height="65" fill="#000"/>
<rect x="1248" y="186" width="11" height="33" fill="#000"/>
<rect x="1249" y="187" width="9" height="31" fill="#0f0"/>
<rect x="1269" y="184" width="1" height="42" fill="#000"/>
<rect x="1264" y="188" width="11" height="33" fill="#000"/>
<rect x="1265" y="189" width="9" height="31" fill="#f00"/>
<rect x="1285" y="167" width="1" height="97" fill="#000"/>
<rect x="1280" y="186" width="11" height="76" fill="#000"/>
<rect x="1281" y="187" width="9" height="74" fill="#0f0"/>
<rect x="1301" y="241" width="1" height="38" fill="#000"/>
<rect x="1296" y="262" width="11" height="9" fill="#000"/>
<rect x="1297" y="263" width="9" height="7" fill="#0f0"/>
<rect x="1317" y="294" width="1" height="54" fill="#000"/>
<rect x="1312" y="299" width="11" height="22" fill="#000"/>
<rect x="1313" y="300" width="9" height="20" fill="#0f0"/>
<rect x="1333" y="303" width="1" height="39" fill="#000"/>
<rect x="1328" y="318" width="11" height="24" fill="#000"/>
<rect x="1329" y="319" width="9" height="22" fill="#0f0"/>
<rect x="1349" y="139" width="1" height="203" fill="#000"/>
<rect x="1344" y="170" width="11" height="171" fill="#000"/>
<rect x="1345" y="171" width="9" height="169" fill="#f00"/>
<rect x="1365" y="105" width="1" height="66" fill="#000"/>
<rect x="1360" y="106" width="11" height="63" fill="#000"/>
<rect x="1361" y="107" width="9" height="61" fill="#f00"/>
<rect x="1381" y="93" width="1" height="18" fill="#000"/>
<rect x="1376" y="99" width="11" height="8" fill="#000"/>
<rect x="1377" y="100" width="9" height="6" fill="#f00"/>
<rect x="5" y="98" width="1636" height="1" fill="#000"/>
<rect x="5" y="35" width="1636" height="2" fill="#f00"/>
<rect x="5" y="67" width="1636" height="2" fill="#f00"/>
<rect x="5" y="110" width="1636" height="2" fill="#ffa500"/>
<rect x="5" y="144" width="1636" height="2" fill="#00f"/>
<rect x="5" y="177" width="1636" height="2" fill="#00f"/>
</g>
</svg>
<svg width="1689" height="863" style="position:absolute;left:0;top:0">
<line x1="1388.7" y1="240.4" x2="1452" y2="96" stroke="#e8141e" stroke-width="2.6"/>
<polygon points="1459.5,78 1444.8,90.1 1460.4,97" fill="#e8141e"/>
</svg>
<svg width="1689" height="863" style="position:absolute;left:0;top:0" shape-rendering="crispEdges">
<rect x="4" y="25" width="1638" height="1" fill="#000"/>
<rect x="4" y="619" width="1638" height="1" fill="#000"/>
<rect x="4" y="25" width="1" height="595" fill="#000"/>
<rect x="1641" y="25" width="1" height="595" fill="#000"/>
<rect x="4" y="33" width="6" height="6" fill="#f00"/>
<rect x="6" y="35" width="2" height="2" fill="#fff"/>
<rect x="1635" y="33" width="6" height="6" fill="#f00"/>
<rect x="1637" y="35" width="2" height="2" fill="#fff"/>
<rect x="4" y="65" width="6" height="6" fill="#f00"/>
<rect x="6" y="67" width="2" height="2" fill="#fff"/>
<rect x="1635" y="65" width="6" height="6" fill="#f00"/>
<rect x="1637" y="67" width="2" height="2" fill="#fff"/>
<rect x="4" y="108" width="6" height="6" fill="#ffa500"/>
<rect x="6" y="110" width="2" height="2" fill="#fff"/>
<rect x="1635" y="108" width="6" height="6" fill="#ffa500"/>
<rect x="1637" y="110" width="2" height="2" fill="#fff"/>
<rect x="4" y="142" width="6" height="6" fill="#00f"/>
<rect x="6" y="144" width="2" height="2" fill="#fff"/>
<rect x="1635" y="142" width="6" height="6" fill="#00f"/>
<rect x="1637" y="144" width="2" height="2" fill="#fff"/>
<rect x="4" y="175" width="6" height="6" fill="#00f"/>
<rect x="6" y="177" width="2" height="2" fill="#fff"/>
<rect x="1635" y="175" width="6" height="6" fill="#00f"/>
<rect x="1637" y="177" width="2" height="2" fill="#fff"/>
<polygon points="1406,26 1415,26 1410.5,31" fill="#000"/>
<polygon points="8,32 15,32 11.5,36" fill="#000"/>
<rect x="1642" y="55" width="2" height="1" fill="#000"/>
<rect x="1642" y="88" width="2" height="1" fill="#000"/>
<rect x="1642" y="121" width="2" height="1" fill="#000"/>
<rect x="1642" y="154" width="2" height="1" fill="#000"/>
<rect x="1642" y="187" width="2" height="1" fill="#000"/>
<rect x="1642" y="220" width="2" height="1" fill="#000"/>
<rect x="1642" y="253" width="2" height="1" fill="#000"/>
<rect x="1642" y="286" width="2" height="1" fill="#000"/>
<rect x="1642" y="319" width="2" height="1" fill="#000"/>
<rect x="1642" y="352" width="2" height="1" fill="#000"/>
<rect x="1642" y="385" width="2" height="1" fill="#000"/>
<rect x="1642" y="418" width="2" height="1" fill="#000"/>
<rect x="1642" y="451" width="2" height="1" fill="#000"/>
<rect x="1642" y="484" width="2" height="1" fill="#000"/>
<rect x="1642" y="517" width="2" height="1" fill="#000"/>
<rect x="1642" y="550" width="2" height="1" fill="#000"/>
<rect x="1642" y="583" width="2" height="1" fill="#000"/>
<rect x="1642" y="616" width="2" height="1" fill="#000"/>
<rect x="1643" y="30" width="41" height="11" fill="#f00"/>
<rect x="1643" y="62" width="41" height="11" fill="#f00"/>
<rect x="1643" y="93" width="41" height="11" fill="#000"/>
<rect x="1643" y="105" width="41" height="11" fill="#ffa500"/>
<rect x="1643" y="139" width="41" height="11" fill="#00f"/>
<rect x="1643" y="172" width="41" height="11" fill="#00f"/>
<rect x="4" y="621" width="1638" height="1" fill="#000"/>
<rect x="4" y="732" width="1638" height="1" fill="#000"/>
<rect x="4" y="621" width="1" height="112" fill="#000"/>
<rect x="1641" y="621" width="1" height="112" fill="#000"/>
<g clip-path="url(#cmacd)">
<rect x="4" y="689" width="3" height="8" fill="#0f0"/>
<rect x="20" y="692" width="3" height="5" fill="#0f0"/>
<rect x="36" y="691" width="3" height="6" fill="#0f0"/>
<rect x="52" y="687" width="3" height="10" fill="#0f0"/>
<rect x="68" y="678" width="3" height="19" fill="#0f0"/>
<rect x="84" y="679" width="3" height="18" fill="#0f0"/>
<rect x="100" y="680" width="3" height="17" fill="#0f0"/>
<rect x="116" y="682" width="3" height="15" fill="#0f0"/>
<rect x="132" y="680" width="3" height="17" fill="#0f0"/>
<rect x="148" y="678" width="3" height="19" fill="#0f0"/>
<rect x="164" y="676" width="3" height="21" fill="#0f0"/>
<rect x="180" y="668" width="3" height="29" fill="#0f0"/>
<rect x="196" y="667" width="3" height="30" fill="#0f0"/>
<rect x="212" y="656" width="3" height="41" fill="#0f0"/>
<rect x="228" y="646" width="3" height="51" fill="#0f0"/>
<rect x="244" y="638" width="3" height="59" fill="#0f0"/>
<rect x="260" y="637" width="3" height="60" fill="#0f0"/>
<rect x="276" y="632" width="3" height="65" fill="#0f0"/>
<rect x="292" y="632" width="3" height="65" fill="#0f0"/>
<rect x="308" y="627" width="3" height="70" fill="#0f0"/>
<rect x="324" y="630" width="3" height="67" fill="#0f0"/>
<rect x="340" y="634" width="3" height="63" fill="#0f0"/>
<rect x="356" y="638" width="3" height="59" fill="#0f0"/>
<rect x="372" y="643" width="3" height="54" fill="#0f0"/>
<rect x="388" y="653" width="3" height="44" fill="#0f0"/>
<rect x="404" y="658" width="3" height="39" fill="#0f0"/>
<rect x="420" y="672" width="3" height="25" fill="#0f0"/>
<rect x="436" y="686" width="3" height="11" fill="#0f0"/>
<rect x="452" y="697" width="3" height="2" fill="#0f0"/>
<rect x="468" y="697" width="3" height="3" fill="#0f0"/>
<rect x="484" y="697" width="3" height="6" fill="#0f0"/>
<rect x="500" y="697" width="3" height="2" fill="#0f0"/>
<rect x="516" y="688" width="3" height="9" fill="#0f0"/>
<rect x="532" y="679" width="3" height="18" fill="#0f0"/>
<rect x="548" y="674" width="3" height="23" fill="#0f0"/>
<rect x="564" y="667" width="3" height="30" fill="#0f0"/>
<rect x="580" y="664" width="3" height="33" fill="#0f0"/>
<rect x="596" y="662" width="3" height="35" fill="#0f0"/>
<rect x="612" y="658" width="3" height="39" fill="#0f0"/>
<rect x="628" y="657" width="3" height="40" fill="#0f0"/>
<rect x="644" y="653" width="3" height="44" fill="#0f0"/>
<rect x="660" y="650" width="3" height="47" fill="#0f0"/>
<rect x="676" y="644" width="3" height="53" fill="#0f0"/>
<rect x="692" y="646" width="3" height="51" fill="#0f0"/>
<rect x="708" y="648" width="3" height="49" fill="#0f0"/>
<rect x="724" y="652" width="3" height="45" fill="#0f0"/>
<rect x="740" y="652" width="3" height="45" fill="#0f0"/>
<rect x="756" y="653" width="3" height="44" fill="#0f0"/>
<rect x="772" y="655" width="3" height="42" fill="#0f0"/>
<rect x="788" y="658" width="3" height="39" fill="#0f0"/>
<rect x="804" y="664" width="3" height="33" fill="#0f0"/>
<rect x="820" y="676" width="3" height="21" fill="#0f0"/>
<rect x="836" y="687" width="3" height="10" fill="#0f0"/>
<rect x="852" y="694" width="3" height="3" fill="#0f0"/>
<rect x="868" y="697" width="3" height="5" fill="#0f0"/>
<rect x="884" y="697" width="3" height="10" fill="#0f0"/>
<rect x="900" y="697" width="3" height="12" fill="#0f0"/>
<rect x="916" y="697" width="3" height="16" fill="#0f0"/>
<rect x="932" y="697" width="3" height="22" fill="#0f0"/>
<rect x="948" y="697" width="3" height="31" fill="#0f0"/>
<rect x="964" y="697" width="3" height="28" fill="#0f0"/>
<rect x="980" y="697" width="3" height="21" fill="#0f0"/>
<rect x="996" y="697" width="3" height="16" fill="#0f0"/>
<rect x="1012" y="697" width="3" height="9" fill="#0f0"/>
<rect x="1028" y="697" width="3" height="7" fill="#0f0"/>
<rect x="1044" y="697" width="3" height="1" fill="#0f0"/>
<rect x="1060" y="690" width="3" height="7" fill="#0f0"/>
<rect x="1076" y="686" width="3" height="11" fill="#0f0"/>
<rect x="1092" y="679" width="3" height="18" fill="#0f0"/>
<rect x="1108" y="672" width="3" height="25" fill="#0f0"/>
<rect x="1124" y="666" width="3" height="31" fill="#0f0"/>
<rect x="1140" y="653" width="3" height="44" fill="#0f0"/>
<rect x="1156" y="645" width="3" height="52" fill="#0f0"/>
<rect x="1172" y="638" width="3" height="59" fill="#0f0"/>
<rect x="1188" y="635" width="3" height="62" fill="#0f0"/>
<rect x="1204" y="631" width="3" height="66" fill="#0f0"/>
<rect x="1220" y="628" width="3" height="69" fill="#0f0"/>
<rect x="1236" y="635" width="3" height="62" fill="#0f0"/>
<rect x="1252" y="644" width="3" height="53" fill="#0f0"/>
<rect x="1268" y="649" width="3" height="48" fill="#0f0"/>
<rect x="1284" y="661" width="3" height="36" fill="#0f0"/>
<rect x="1300" y="671" width="3" height="26" fill="#0f0"/>
<rect x="1316" y="684" width="3" height="13" fill="#0f0"/>
<rect x="1332" y="696" width="3" height="1" fill="#0f0"/>
<rect x="1348" y="689" width="3" height="8" fill="#0f0"/>
<rect x="1364" y="678" width="3" height="19" fill="#0f0"/>
<rect x="1380" y="669" width="3" height="28" fill="#0f0"/>
</g>
<polyline points="5,670.2 21.3,672.6 37.7,676.2 53.3,679 69.6,681.1 85.3,682.1 101.6,683.5 117.2,683.5 133.6,683.5 149.2,683 165.5,681.1 181.2,679.3 197.5,676.4 213.1,674 229.5,670.8 245.3,666.5 261.3,661.7 277.3,655.6 293.5,650.3 309.6,645.6 325.5,641.3 341.5,637.1 357.5,635.2 373.5,635.2 389.1,636.1 405.5,639.2 421.4,643.5 437.5,649.9 453.1,657.7 469.2,664.8 485.6,673.3 501.2,679.7 517.5,684.7 533.2,687.2 549.5,688.7 565.2,688.2 581.5,686.4 597.1,681.8 613.5,677.6 629.1,672.6 645.4,667.3 661.1,663.1 677.4,659.1 693,656 709.2,653.1 725.5,652 741.2,651 758.2,649.9 773.8,650.9 789.5,651.7 805.1,652 821.4,656.5 837.8,660.5 853.4,666.9 869.7,671.9 885.4,677.6 901.7,684 917.4,690.4 933.5,696.6 949.1,703.2 965.5,709.6 981.1,712.5 997.4,714.2 1013.8,714.6 1029.4,714.2 1045,713.2 1061.4,710.3 1077,707.1 1093.4,702.1 1109,696.1 1125.3,690 1141,684.5 1157.1,677.1 1173.4,670.4 1189.1,663.3 1205.4,656.2 1221,650.1 1237.4,645.3 1253.7,642 1269.4,641 1285.7,641.3 1301.3,644.2 1317.7,649.1 1333.3,655.5 1349.6,662.3 1365.3,668.3 1381.6,670.7" fill="none" stroke="#f00" stroke-width="2"/>
<rect x="1642" y="623" width="2" height="1" fill="#000"/>
<rect x="1642" y="697" width="2" height="1" fill="#000"/>
<rect x="1642" y="731" width="2" height="1" fill="#000"/>
<rect x="4" y="734" width="1638" height="1" fill="#000"/>
<rect x="4" y="840" width="1638" height="1" fill="#000"/>
<rect x="4" y="734" width="1" height="107" fill="#000"/>
<rect x="1641" y="734" width="1" height="107" fill="#000"/>
<polyline points="5,791.6 21,789.5 37,786.7 53,783.5 69,777.8 85,785.9 101,785.9 117,786.7 133,783.2 149,782.7 165,781.8 181,777.2 197,779.9 213,773.1 229,771.2 245,771 261,777.2 277,773.9 293,776.7 309,773.9 325,780.8 341,780.8 357,780.8 373,781.8 389,788.6 405,785.7 421,795.5 437,797.6 453,797.6 469,790 485,790.8 501,784.6 517,778.6 533,778.6 549,778.6 565,777.8 581,779.7 597,779.4 613,777.8 629,777.8 645,775.8 661,774.5 677,771.8 693,779.9 709,780.2 725,780.8 741,780.8 757,777.8 773,779.1 789,781.8 805,786.7 821,797.6 837,797.6 853,796.8 869,796.8 885,796.8 901,794.9 917,797.1 933,799.8 949,805 965,790.8 981,784 997,784.8 1013,782.9 1029,788.1 1045,781.3 1061,779.9 1077,780.8 1093,777.2 1109,775.8 1125,774.8 1141,768.2 1157,768.8 1173,769.6 1189,769.9 1205,768.5 1221,768 1237,784 1253,786.7 1269,784 1285,792.6 1301,792.9 1317,798.7 1333,799.7 1349,781 1365,777 1381,777" fill="none" stroke="#1e90ff" stroke-width="2"/>
<line x1="6" y1="756.5" x2="1641" y2="756.5" stroke="#000" stroke-width="1" stroke-dasharray="3 3"/>
<line x1="6" y1="787.5" x2="1641" y2="787.5" stroke="#000" stroke-width="1" stroke-dasharray="3 3"/>
<line x1="6" y1="824.5" x2="1641" y2="824.5" stroke="#000" stroke-width="1" stroke-dasharray="3 3"/>
<rect x="1642" y="736" width="2" height="1" fill="#000"/>
<rect x="1642" y="756" width="2" height="1" fill="#000"/>
<rect x="1642" y="787" width="2" height="1" fill="#000"/>
<rect x="1642" y="824" width="2" height="1" fill="#000"/>
<rect x="1642" y="839" width="2" height="1" fill="#000"/>
<rect x="5" y="841" width="1" height="3" fill="#000"/>
<rect x="69" y="841" width="1" height="3" fill="#000"/>
<rect x="133" y="841" width="1" height="3" fill="#000"/>
<rect x="197" y="841" width="1" height="3" fill="#000"/>
<rect x="261" y="841" width="1" height="3" fill="#000"/>
<rect x="325" y="841" width="1" height="3" fill="#000"/>
<rect x="389" y="841" width="1" height="3" fill="#000"/>
<rect x="453" y="841" width="1" height="3" fill="#000"/>
<rect x="517" y="841" width="1" height="3" fill="#000"/>
<rect x="581" y="841" width="1" height="3" fill="#000"/>
<rect x="645" y="841" width="1" height="3" fill="#000"/>
<rect x="709" y="841" width="1" height="3" fill="#000"/>
<rect x="773" y="841" width="1" height="3" fill="#000"/>
<rect x="837" y="841" width="1" height="3" fill="#000"/>
<rect x="901" y="841" width="1" height="3" fill="#000"/>
<rect x="965" y="841" width="1" height="3" fill="#000"/>
<rect x="1029" y="841" width="1" height="3" fill="#000"/>
<rect x="1093" y="841" width="1" height="3" fill="#000"/>
<rect x="1157" y="841" width="1" height="3" fill="#000"/>
<rect x="1221" y="841" width="1" height="3" fill="#000"/>
<rect x="1285" y="841" width="1" height="3" fill="#000"/>
<rect x="1349" y="841" width="1" height="3" fill="#000"/>
</svg>
<svg width="1689" height="863" style="position:absolute;left:0;top:0" font-family='"Liberation Sans", Tahoma, sans-serif' font-size="9.33" stroke-width="0.22">
<text x="1647" y="58.1" fill="#000" stroke="#000">28029.0</text>
<text x="1647" y="91.1" fill="#000" stroke="#000">27951.0</text>
<text x="1647" y="124.1" fill="#000" stroke="#000">27875.0</text>
<text x="1647" y="157.1" fill="#000" stroke="#000">27797.0</text>
<text x="1647" y="190.1" fill="#000" stroke="#000">27719.0</text>
<text x="1647" y="223.1" fill="#000" stroke="#000">27641.0</text>
<text x="1647" y="256.1" fill="#000" stroke="#000">27565.0</text>
<text x="1647" y="289.1" fill="#000" stroke="#000">27487.0</text>
<text x="1647" y="322.1" fill="#000" stroke="#000">27409.0</text>
<text x="1647" y="355.1" fill="#000" stroke="#000">27333.0</text>
<text x="1647" y="388.1" fill="#000" stroke="#000">27255.0</text>
<text x="1647" y="421.1" fill="#000" stroke="#000">27177.0</text>
<text x="1647" y="454.1" fill="#000" stroke="#000">27099.0</text>
<text x="1647" y="487.1" fill="#000" stroke="#000">27023.0</text>
<text x="1647" y="520.1" fill="#000" stroke="#000">26945.0</text>
<text x="1647" y="553.1" fill="#000" stroke="#000">26867.0</text>
<text x="1647" y="586.1" fill="#000" stroke="#000">26791.0</text>
<text x="1647" y="619.1" fill="#000" stroke="#000">26713.0</text>
<text x="1647" y="39" fill="#fff" stroke="#fff">28072.6</text>
<text x="1647" y="71" fill="#fff" stroke="#fff">27999.0</text>
<text x="1647" y="102" fill="#fff" stroke="#fff">27927.5</text>
<text x="1647" y="114" fill="#fff" stroke="#fff">27897.8</text>
<text x="1647" y="148" fill="#fff" stroke="#fff">27818.5</text>
<text x="1647" y="181" fill="#fff" stroke="#fff">27741.5</text>
<text x="9" y="634" fill="#000" stroke="#000">MACD(12,26,9) 55.32 51.28</text>
<text x="1645.3" y="632.3" fill="#000" stroke="#000">148.23</text>
<text x="1645.3" y="701" fill="#000" stroke="#000">0.00</text>
<text x="1645.3" y="729" fill="#000" stroke="#000">-68.23</text>
<text x="9" y="747" fill="#000" stroke="#000">RSI(14) 61.0784</text>
<text x="1645" y="745" fill="#000" stroke="#000">100</text>
<text x="1645" y="760" fill="#000" stroke="#000">80</text>
<text x="1645" y="791" fill="#000" stroke="#000">50</text>
<text x="1645" y="828" fill="#000" stroke="#000">15</text>
<text x="1645" y="837.5" fill="#000" stroke="#000">0</text>
<text x="4" y="853" fill="#000" stroke="#000" letter-spacing="0.15">21 Oct 2022</text>
<text x="68" y="853" fill="#000" stroke="#000" letter-spacing="0.15">23 Oct 23:30</text>
<text x="132" y="853" fill="#000" stroke="#000" letter-spacing="0.15">24 Oct 14:55</text>
<text x="196" y="853" fill="#000" stroke="#000" letter-spacing="0.15">25 Oct 04:00</text>
<text x="260" y="853" fill="#000" stroke="#000" letter-spacing="0.15">25 Oct 23:30</text>
<text x="324" y="853" fill="#000" stroke="#000" letter-spacing="0.15">26 Oct 14:55</text>
<text x="388" y="853" fill="#000" stroke="#000" letter-spacing="0.15">27 Oct 04:00</text>
<text x="452" y="853" fill="#000" stroke="#000" letter-spacing="0.15">27 Oct 23:30</text>
<text x="516" y="853" fill="#000" stroke="#000" letter-spacing="0.15">28 Oct 14:55</text>
<text x="580" y="853" fill="#000" stroke="#000" letter-spacing="0.15">31 Oct 04:00</text>
<text x="644" y="853" fill="#000" stroke="#000" letter-spacing="0.15">31 Oct 23:30</text>
<text x="708" y="853" fill="#000" stroke="#000" letter-spacing="0.15">1 Nov 14:55</text>
<text x="772" y="853" fill="#000" stroke="#000" letter-spacing="0.15">2 Nov 04:00</text>
<text x="836" y="853" fill="#000" stroke="#000" letter-spacing="0.15">2 Nov 23:30</text>
<text x="900" y="853" fill="#000" stroke="#000" letter-spacing="0.15">3 Nov 14:55</text>
<text x="964" y="853" fill="#000" stroke="#000" letter-spacing="0.15">4 Nov 04:00</text>
<text x="1028" y="853" fill="#000" stroke="#000" letter-spacing="0.15">6 Nov 23:30</text>
<text x="1092" y="853" fill="#000" stroke="#000" letter-spacing="0.15">7 Nov 14:55</text>
<text x="1156" y="853" fill="#000" stroke="#000" letter-spacing="0.15">8 Nov 04:00</text>
<text x="1220" y="853" fill="#000" stroke="#000" letter-spacing="0.15">8 Nov 23:30</text>
<text x="1284" y="853" fill="#000" stroke="#000" letter-spacing="0.15">9 Nov 14:55</text>
<text x="1348" y="853" fill="#000" stroke="#000" letter-spacing="0.15">10 Nov 10:55</text>
</svg>
</body></html>
